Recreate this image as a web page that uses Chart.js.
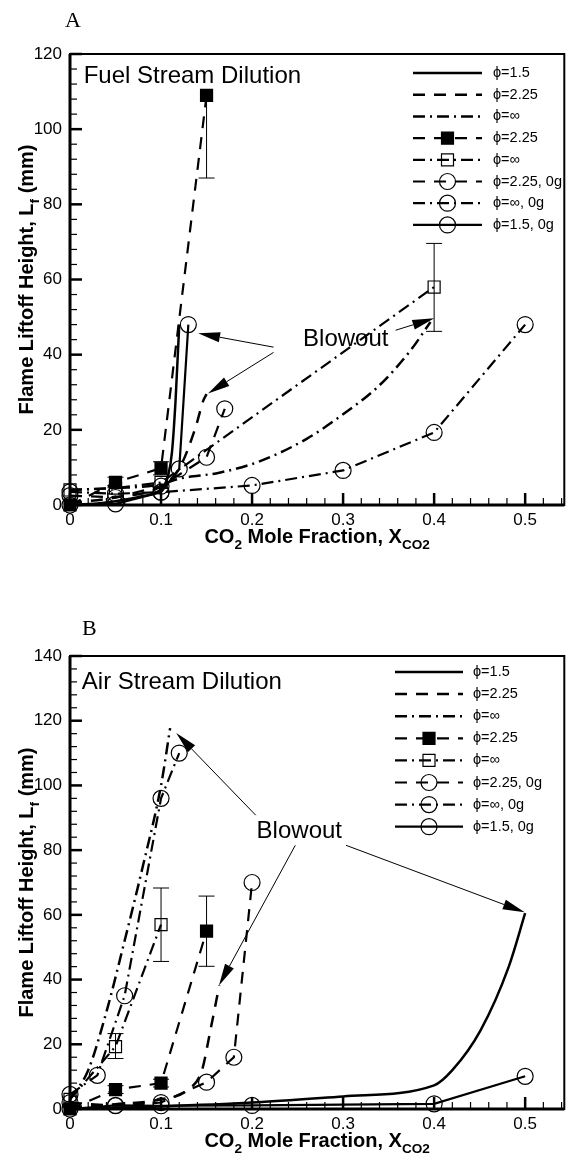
<!DOCTYPE html>
<html>
<head>
<meta charset="utf-8">
<script src="https://cdn.jsdelivr.net/npm/chart.js@4.4.0/dist/chart.umd.min.js"></script>
<style>
  html, body { margin: 0; padding: 0; background: #fff; }
  body { width: 574px; height: 1154px; position: relative; overflow: hidden; }
  canvas { position: absolute; left: 0; }
</style>
</head>
<body>
<canvas id="chartA" width="574" height="560" style="top:0"></canvas>
<canvas id="chartB" width="574" height="564" style="top:590px"></canvas>
<script>
// ---- Panel A: fuel stream dilution ----
const fuelModel15X = [0, 0.03, 0.05, 0.08, 0.1, 0.108, 0.112, 0.116, 0.12];
const fuelModel15Y = [0, 0.4, 1, 2.4, 4.2, 8, 14, 28, 48];
const fuelModel225X = [0, 0.05, 0.1, 0.12, 0.138, 0.146, 0.15];
const fuelModel225Y = [0.5, 2, 5, 9.7, 20.7, 27.5, 29.5];
const fuelModelInfX = [0, 0.05, 0.1, 0.12, 0.164, 0.207, 0.26, 0.298, 0.338, 0.374, 0.396];
const fuelModelInfY = [4, 4.5, 5.5, 7, 8.6, 11.5, 17.6, 23.8, 31.4, 41.1, 48.7];
const fuelSqFilledX = [0, 0.05, 0.1, 0.15];
const fuelSqFilledY = [0, 6, 9.8, 109];
const fuelSqFilledLo = [null, 4.6, 8, 87];
const fuelSqFilledHi = [null, 7.4, 11.5, 109];
const fuelSqOpenX = [0, 0.05, 0.1, 0.4];
const fuelSqOpenY = [4, 4.5, 6, 58];
const fuelSqOpenLo = [null, null, null, 46.2];
const fuelSqOpenHi = [null, null, null, 69.6];
const fuel0g225X = [0, 0.05, 0.1, 0.15, 0.17];
const fuel0g225Y = [2.5, 2, 5, 12.7, 25.6];
const fuel0gInfX = [0, 0.05, 0.1, 0.2, 0.3, 0.4, 0.5];
const fuel0gInfY = [3.5, 3, 3.4, 5.2, 9.2, 19.3, 48];
const fuel0g15X = [0, 0.05, 0.1, 0.12, 0.13];
const fuel0g15Y = [0, 0.3, 3.4, 9.6, 48];

// ---- Panel B: air stream dilution ----
const airModel15X = [0, 0.1, 0.2, 0.3, 0.4, 0.42, 0.451, 0.482, 0.5];
const airModel15Y = [0, 0.8, 2, 3.9, 7.3, 12, 24.3, 44, 60.5];
const airModel225X = [0, 0.05, 0.1, 0.13, 0.145, 0.154, 0.164];
const airModel225Y = [0.5, 1.5, 3, 6, 12, 24, 38.2];
const airModelInfX = [0, 0.02, 0.04, 0.06, 0.08, 0.1, 0.11];
const airModelInfY = [3, 12, 30, 52, 75, 100, 117.7];
const airSqFilledX = [0, 0.05, 0.1, 0.15];
const airSqFilledY = [0, 6, 8, 55];
const airSqFilledLo = [null, 4.8, 6.8, 44.1];
const airSqFilledHi = [null, 7.2, 9.2, 65.8];
const airSqOpenX = [0, 0.05, 0.1];
const airSqOpenY = [3, 19.3, 57];
const airSqOpenLo = [null, 15.6, 45.6];
const airSqOpenHi = [null, 23.3, 68.3];
const air0g225X = [0, 0.05, 0.1, 0.15, 0.18, 0.2];
const air0g225Y = [2, 1, 2, 8.3, 16, 70];
const air0gInfX = [0, 0.03, 0.06, 0.1, 0.12];
const air0gInfY = [4.5, 10.4, 35, 96, 110];
const air0g15X = [0, 0.05, 0.1, 0.2, 0.4, 0.5];
const air0g15Y = [0, 1.1, 1, 1.1, 1.6, 10.1];

// ticks and labels
const xTickValues = [0, 0.1, 0.2, 0.3, 0.4, 0.5];
const yTicksA = [0, 20, 40, 60, 80, 100, 120];
const yTicksB = [0, 20, 40, 60, 80, 100, 120, 140];
const legendLabels = ['\u03d5=1.5', '\u03d5=2.25', '\u03d5=\u221e', '\u03d5=2.25', '\u03d5=\u221e',
                      '\u03d5=2.25, 0g', '\u03d5=\u221e, 0g', '\u03d5=1.5, 0g'];

const FONT = "'Liberation Sans', Arial, Helvetica, sans-serif";
const SERIF = "'Liberation Serif', 'Times New Roman', serif";
const DASH = [12, 9];
const DASHDOT = [12, 5, 2, 5];
const CLIP = { left: 10, top: 0, right: 0, bottom: 10 };

function pts(xs, ys) {
  return xs.map((x, i) => ({ x: x, y: ys[i] }));
}

function modelLine(xs, ys, dash) {
  return {
    data: pts(xs, ys), showLine: true, borderColor: '#000', borderWidth: 2.5,
    borderDash: dash, pointRadius: 0, cubicInterpolationMode: 'monotone', clip: CLIP
  };
}

function markerLine(xs, ys, dash, style, filled) {
  return {
    data: pts(xs, ys), showLine: true, borderColor: '#000', borderWidth: 2.2,
    borderDash: dash, tension: 0, pointStyle: style,
    pointRadius: style === 'rect' ? 8.5 : 8, pointBorderWidth: 1.2,
    pointBorderColor: '#000', pointBackgroundColor: filled ? '#000' : 'rgba(0,0,0,0)',
    clip: CLIP
  };
}

function drawMarker(ctx, style, filled, x, y) {
  ctx.save();
  ctx.setLineDash([]);
  ctx.lineWidth = 1.2;
  ctx.beginPath();
  if (style === 'rect') ctx.rect(x - 6, y - 6, 12, 12);
  else ctx.arc(x, y, 8, 0, Math.PI * 2);
  if (filled) ctx.fill();
  ctx.stroke();
  ctx.restore();
}

function arrow(ctx, x1, y1, x2, y2) {
  const ang = Math.atan2(y2 - y1, x2 - x1), L = 22, W = 5;
  const bx = x2 - L * Math.cos(ang), by = y2 - L * Math.sin(ang);
  ctx.lineWidth = 1;
  ctx.beginPath(); ctx.moveTo(x1, y1); ctx.lineTo(bx, by); ctx.stroke();
  ctx.beginPath();
  ctx.moveTo(x2, y2);
  ctx.lineTo(bx + W * Math.sin(ang), by - W * Math.cos(ang));
  ctx.lineTo(bx - W * Math.sin(ang), by + W * Math.cos(ang));
  ctx.closePath(); ctx.fill();
}

// text with subscripts, centred on x
function drawRich(ctx, segs, x, y, size) {
  let w = 0;
  segs.forEach(s => { ctx.font = 'bold ' + (s[1] ? size * 0.68 : size) + 'px ' + FONT; w += ctx.measureText(s[0]).width; });
  let cx = x - w / 2;
  segs.forEach(s => {
    ctx.font = 'bold ' + (s[1] ? size * 0.68 : size) + 'px ' + FONT;
    ctx.fillText(s[0], cx, s[1] ? y + size * 0.3 : y);
    cx += ctx.measureText(s[0]).width;
  });
}

function tecplot(cfg) {
  return {
    id: 'tecplot',
    afterDatasetsDraw(chart) {
      const ctx = chart.ctx, a = chart.chartArea;
      const xs = chart.scales.x, ys = chart.scales.y;
      const px = v => xs.getPixelForValue(v), py = v => ys.getPixelForValue(v);
      ctx.save();
      ctx.strokeStyle = '#000';
      ctx.fillStyle = '#000';

      // error bars
      ctx.save();
      ctx.beginPath(); ctx.rect(a.left, a.top, a.right - a.left, a.bottom - a.top); ctx.clip();
      ctx.lineWidth = 1;
      cfg.errors.forEach(e => {
        chart.data.datasets[e.index].data.forEach((p, i) => {
          if (e.lo[i] == null) return;
          const x = px(p.x), y1 = py(e.lo[i]), y2 = py(e.hi[i]);
          ctx.beginPath();
          ctx.moveTo(x, y1); ctx.lineTo(x, y2);
          if (e.lo[i] < p.y) { ctx.moveTo(x - 8, y1); ctx.lineTo(x + 8, y1); }
          if (e.hi[i] > p.y) { ctx.moveTo(x - 8, y2); ctx.lineTo(x + 8, y2); }
          ctx.stroke();
        });
      });
      ctx.restore();

      // frame
      ctx.setLineDash([]);
      ctx.lineWidth = 2;
      ctx.strokeRect(a.left, a.top, a.right - a.left, a.bottom - a.top);
      ctx.lineWidth = 3;
      ctx.beginPath();
      ctx.moveTo(a.left, a.top); ctx.lineTo(a.left, a.bottom); ctx.lineTo(a.right, a.bottom);
      ctx.stroke();

      // inward ticks
      for (let v = 0; v <= ys.max + 1e-9; v += 4) {
        const y = py(v), major = Math.abs(v % 20) < 1e-6;
        ctx.lineWidth = major ? 2.5 : 1.2;
        ctx.beginPath(); ctx.moveTo(a.left, y); ctx.lineTo(a.left + (major ? 12 : 7), y); ctx.stroke();
      }
      for (let k = 0; k * 0.02 <= xs.max + 1e-9; k++) {
        const x = px(k * 0.02), major = k % 5 === 0;
        ctx.lineWidth = major ? 2.5 : 1.2;
        ctx.beginPath(); ctx.moveTo(x, a.bottom); ctx.lineTo(x, a.bottom - (major ? 12 : 7)); ctx.stroke();
      }

      // annotations
      ctx.textBaseline = 'middle';
      ctx.textAlign = 'left';
      cfg.texts.forEach(t => {
        ctx.font = '24px ' + FONT;
        ctx.fillText(t.text, px(t.x), py(t.y));
      });
      cfg.arrows.forEach(r => arrow(ctx, px(r[0]), py(r[1]), px(r[2]), py(r[3])));

      // legend
      const lg = cfg.legend;
      chart.data.datasets.forEach((ds, i) => {
        const y = lg.y0 + i * lg.dy;
        ctx.lineWidth = ds.borderWidth;
        ctx.setLineDash(ds.borderDash || []);
        ctx.beginPath(); ctx.moveTo(lg.x1, y); ctx.lineTo(lg.x2, y); ctx.stroke();
        ctx.setLineDash([]);
        if (ds.pointRadius > 0) {
          drawMarker(ctx, ds.pointStyle, ds.pointBackgroundColor === '#000', (lg.x1 + lg.x2) / 2, y);
        }
        ctx.font = '14.5px ' + FONT;
        ctx.fillText(legendLabels[i], lg.tx, y);
      });

      // axis titles
      ctx.textBaseline = 'alphabetic';
      drawRich(ctx, [['CO', false], ['2', true], [' Mole Fraction, X', false], ['CO2', true]],
        (a.left + a.right) / 2, cfg.xTitleY, 20);
      ctx.save();
      ctx.translate(33, (a.top + a.bottom) / 2);
      ctx.rotate(-Math.PI / 2);
      drawRich(ctx, [['Flame Liftoff Height, L', false], ['f', true], [' (mm)', false]], 0, 0, 20);
      ctx.restore();

      // panel letter
      ctx.font = '22px ' + SERIF;
      ctx.fillText(cfg.letter.text, cfg.letter.x, cfg.letter.y);
      ctx.restore();
    }
  };
}

function makeChart(id, datasets, yMax, yTicks, top, xHeight, cfg) {
  return new Chart(document.getElementById(id).getContext('2d'), {
    type: 'scatter',
    data: { datasets: datasets },
    options: {
      responsive: false,
      animation: false,
      devicePixelRatio: 1,
      layout: { padding: { top: top, right: 6, left: 0, bottom: 0 } },
      plugins: { legend: { display: false }, tooltip: { enabled: false } },
      scales: {
        x: {
          type: 'linear', min: 0, max: 0.543,
          grid: { display: false, drawTicks: false }, border: { display: false },
          afterBuildTicks: s => { s.ticks = xTickValues.map(v => ({ value: v })); },
          ticks: {
            font: { family: FONT, size: 17 }, color: '#000', padding: 5, maxRotation: 0, autoSkip: false,
            callback: v => v === 0 ? '0' : v.toFixed(1)
          },
          afterFit: s => { s.height = xHeight; }
        },
        y: {
          type: 'linear', min: 0, max: yMax,
          grid: { display: false, drawTicks: false }, border: { display: false },
          afterBuildTicks: s => { s.ticks = yTicks.map(v => ({ value: v })); },
          ticks: { font: { family: FONT, size: 17 }, color: '#000', padding: 8, autoSkip: false },
          afterFit: s => { s.width = 70; }
        }
      }
    },
    plugins: [tecplot(cfg)]
  });
}

const datasetsA = [
  modelLine(fuelModel15X, fuelModel15Y, []),
  modelLine(fuelModel225X, fuelModel225Y, DASH),
  modelLine(fuelModelInfX, fuelModelInfY, DASHDOT),
  markerLine(fuelSqFilledX, fuelSqFilledY, DASH, 'rect', true),
  markerLine(fuelSqOpenX, fuelSqOpenY, DASHDOT, 'rect', false),
  markerLine(fuel0g225X, fuel0g225Y, DASH, 'circle', false),
  markerLine(fuel0gInfX, fuel0gInfY, DASHDOT, 'circle', false),
  markerLine(fuel0g15X, fuel0g15Y, [], 'circle', false)
];

const datasetsB = [
  modelLine(airModel15X, airModel15Y, []),
  modelLine(airModel225X, airModel225Y, DASH),
  modelLine(airModelInfX, airModelInfY, DASHDOT),
  markerLine(airSqFilledX, airSqFilledY, DASH, 'rect', true),
  markerLine(airSqOpenX, airSqOpenY, DASHDOT, 'rect', false),
  markerLine(air0g225X, air0g225Y, DASH, 'circle', false),
  markerLine(air0gInfX, air0gInfY, DASHDOT, 'circle', false),
  markerLine(air0g15X, air0g15Y, [], 'circle', false)
];

makeChart('chartA', datasetsA, 120, yTicksA, 54, 55, {
  errors: [
    { index: 3, lo: fuelSqFilledLo, hi: fuelSqFilledHi },
    { index: 4, lo: fuelSqOpenLo, hi: fuelSqOpenHi }
  ],
  texts: [
    { text: 'Fuel Stream Dilution', x: 0.015, y: 114 },
    { text: 'Blowout', x: 0.256, y: 44.1 }
  ],
  arrows: [
    [0.2236, 42.0, 0.1407, 45.7],
    [0.2236, 40.6, 0.1516, 29.7],
    [0.3577, 46.5, 0.4002, 49.7]
  ],
  legend: { x1: 413, x2: 482, tx: 493, y0: 73, dy: 21.7 },
  xTitleY: 543,
  letter: { text: 'A', x: 65, y: 27 }
});

makeChart('chartB', datasetsB, 140, yTicksB, 66, 45, {
  errors: [
    { index: 3, lo: airSqFilledLo, hi: airSqFilledHi },
    { index: 4, lo: airSqOpenLo, hi: airSqOpenHi }
  ],
  texts: [
    { text: 'Air Stream Dilution', x: 0.013, y: 132 },
    { text: 'Blowout', x: 0.205, y: 85.8 }
  ],
  arrows: [
    [0.204, 90.8, 0.1167, 116.2],
    [0.2475, 81.5, 0.1636, 38.2],
    [0.3032, 81.5, 0.4995, 60.8]
  ],
  legend: { x1: 395, x2: 463, tx: 473, y0: 82, dy: 22.1 },
  xTitleY: 557,
  letter: { text: 'B', x: 82, y: 45 }
});
</script>
</body>
</html>
